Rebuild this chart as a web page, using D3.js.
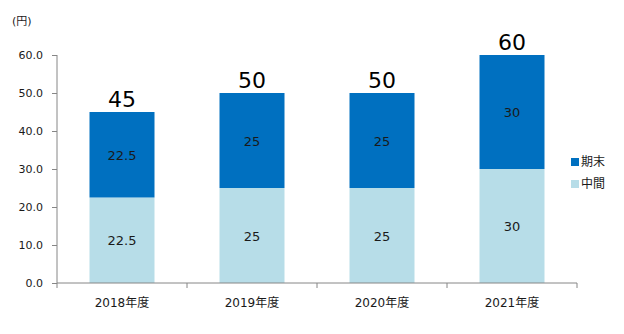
<!DOCTYPE html>
<html><head><meta charset="utf-8">
<script src="https://cdn.jsdelivr.net/npm/d3@7"></script>
<style>body{margin:0;background:#fff}svg{display:block;font-family:"DejaVu Sans","Noto Sans CJK JP",sans-serif}</style>
</head><body>
<svg id="c" width="624" height="334"></svg>
<script>
const categories = ["2018年度","2019年度","2020年度","2021年度"];
const interim = [22.5, 25, 25, 30];
const yearEnd = [22.5, 25, 25, 30];
const totals = [45, 50, 50, 60];
const yTicks = [0,10,20,30,40,50,60];
const seriesNames = ["中間","期末"];
const colors = ["#B7DDE8","#0070C0"];

const svg = d3.select("#c");
const x = d3.scaleBand().domain(categories).range([57,577]).paddingInner(0.5).paddingOuter(0.25);
const y = d3.scaleLinear().domain([0,60]).range([283,55]);

const rows = categories.map((c,i)=>({cat:c, interim:interim[i], yearEnd:yearEnd[i], total:totals[i]}));
const stack = d3.stack().keys(["interim","yearEnd"])(rows);

stack.forEach((layer,li)=>{
  svg.append("g").selectAll("rect").data(layer).join("rect")
    .attr("x",d=>x(d.data.cat)).attr("width",x.bandwidth())
    .attr("y",d=>y(d[1])).attr("height",d=>y(d[0])-y(d[1]))
    .attr("fill",colors[li]);
  svg.append("g").selectAll("text").data(layer).join("text")
    .attr("x",d=>x(d.data.cat)+x.bandwidth()/2)
    .attr("y",d=>(y(d[0])+y(d[1]))/2+5)
    .attr("text-anchor","middle").attr("font-size",13).attr("fill","#1a1a1a")
    .text(d=>d[1]-d[0]);
});

svg.append("g").selectAll("text").data(rows).join("text")
  .attr("x",d=>x(d.cat)+x.bandwidth()/2).attr("y",d=>y(d.total)-5)
  .attr("text-anchor","middle").attr("font-size",22).attr("fill","#000")
  .text(d=>d.total);

// y axis
const ya = svg.append("g").attr("transform","translate(57,0)")
  .call(d3.axisLeft(y).tickValues(yTicks).tickFormat(d3.format(".1f")).tickSize(5).tickPadding(9));
ya.select(".domain").attr("stroke","#868686").attr("d","M0,55V283");
ya.selectAll(".tick line").attr("stroke","#868686");
ya.selectAll("text").attr("font-size",11).attr("fill","#1a1a1a").attr("font-family","DejaVu Sans");

// x axis
const xa = svg.append("g").attr("transform","translate(0,283)");
xa.append("line").attr("x1",57).attr("x2",577).attr("stroke","#868686");
const bounds = [57].concat(categories.map(c=>x(c)-x.step()*0.25+x.step()));
xa.selectAll("line.t").data(bounds).join("line").attr("class","t")
  .attr("x1",d=>d).attr("x2",d=>d).attr("y1",0).attr("y2",5).attr("stroke","#868686");
xa.selectAll("text").data(categories).join("text")
  .attr("x",d=>x(d)+x.bandwidth()/2).attr("y",24)
  .attr("text-anchor","middle").attr("font-size",12).attr("fill","#1a1a1a").text(d=>d);

svg.append("text").attr("x",12).attr("y",25).attr("font-size",11).attr("fill","#1a1a1a").text("(円)");

// legend
const legend = [{name:seriesNames[1], color:colors[1], yy:166},{name:seriesNames[0], color:colors[0], yy:188}];
const lg = svg.append("g").selectAll("g").data(legend).join("g");
lg.append("rect").attr("x",571).attr("y",d=>d.yy-8).attr("width",8).attr("height",8).attr("fill",d=>d.color);
lg.append("text").attr("x",581).attr("y",d=>d.yy).attr("font-size",12).attr("fill","#1a1a1a").text(d=>d.name);
</script>
</body></html>
